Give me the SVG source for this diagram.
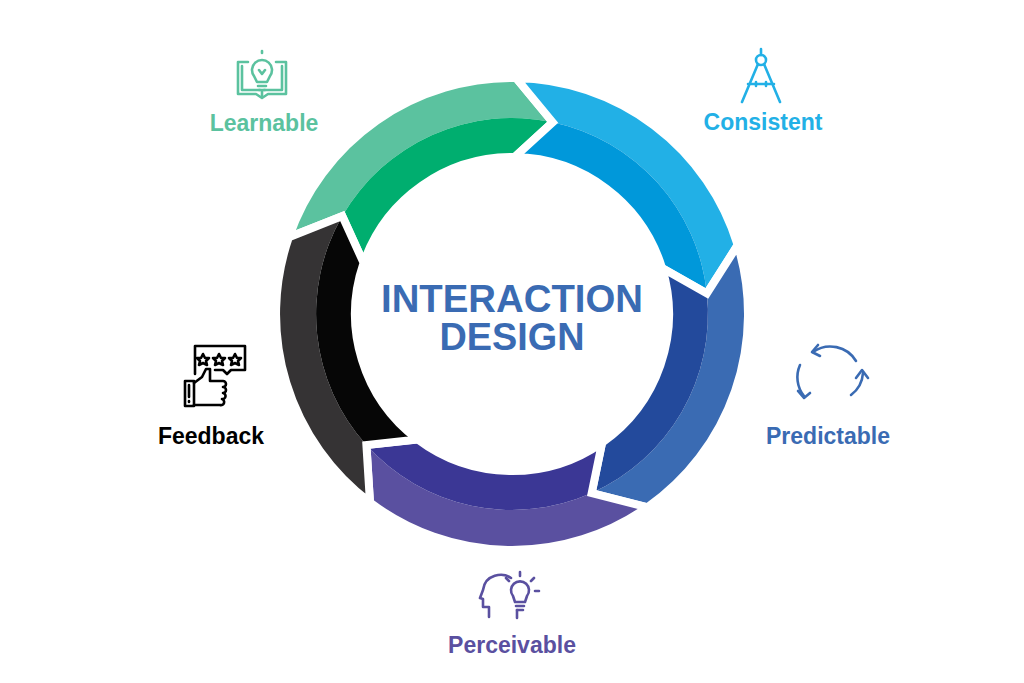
<svg xmlns="http://www.w3.org/2000/svg" width="1024" height="683" viewBox="0 0 1024 683">
<style>
.lbl{font-family:"Liberation Sans",Arial,sans-serif;font-weight:bold;font-size:23px;text-anchor:middle}
.title{font-family:"Liberation Sans",Arial,sans-serif;font-weight:bold;font-size:38px;fill:#3A6BB3;text-anchor:middle}
.gap{fill:none;stroke:#fff;stroke-width:8;stroke-linejoin:miter}
.ic{fill:none;stroke-width:2.6;stroke-linecap:round;stroke-linejoin:round}
</style>
<rect width="1024" height="683" fill="#fff"/>
<g id="ring">
<g id="seg-green">
<path d="M288.9,237.2 A236,236 0 0 1 516.1,78 L552.7,122.3 A196,196 0 0 0 342.3,216 Z" fill="#5BC29F"/>
<path d="M342.3,216 A196,196 0 0 1 552.7,122.3 L514.7,157 A157,157 0 0 0 363.6,262.9 Z" fill="#00AE6F"/>
<path class="gap" d="M288.9,237.2 A236,236 0 0 1 516.1,78 L552.7,122.3 L514.7,157 A157,157 0 0 0 363.6,262.9 L342.3,216 Z"/>
</g>
<g id="seg-blue">
<path d="M516.1,78 A236,236 0 0 1 737.7,245 L706.9,293.5 A196,196 0 0 0 552.7,122.3 Z" fill="#22B0E6"/>
<path d="M552.7,122.3 A196,196 0 0 1 706.9,293.5 L662.1,268.1 A157,157 0 0 0 514.7,157 Z" fill="#0098DA"/>
<path class="gap" d="M516.1,78 A236,236 0 0 1 737.7,245 L706.9,293.5 L662.1,268.1 A157,157 0 0 0 514.7,157 L552.7,122.3 Z"/>
</g>
<g id="seg-darkblue">
<path d="M737.7,245 A236,236 0 0 1 647.4,507.3 L591.7,493 A196,196 0 0 0 706.9,293.5 Z" fill="#3A6BB3"/>
<path d="M706.9,293.5 A196,196 0 0 1 591.7,493 L602.1,442.6 A157,157 0 0 0 662.1,268.1 Z" fill="#234A9C"/>
<path class="gap" d="M737.7,245 A236,236 0 0 1 647.4,507.3 L591.7,493 L602.1,442.6 A157,157 0 0 0 662.1,268.1 L706.9,293.5 Z"/>
</g>
<g id="seg-purple">
<path d="M647.4,507.3 A236,236 0 0 1 370,502.5 L366.4,445.1 A196,196 0 0 0 591.7,493 Z" fill="#5A50A0"/>
<path d="M591.7,493 A196,196 0 0 1 366.4,445.1 L417.5,439.4 A157,157 0 0 0 602.1,442.6 Z" fill="#3B3795"/>
<path class="gap" d="M647.4,507.3 A236,236 0 0 1 370,502.5 L366.4,445.1 L417.5,439.4 A157,157 0 0 0 602.1,442.6 L591.7,493 Z"/>
</g>
<g id="seg-black">
<path d="M370,502.5 A236,236 0 0 1 288.9,237.2 L342.3,216 A196,196 0 0 0 366.4,445.1 Z" fill="#353334"/>
<path d="M366.4,445.1 A196,196 0 0 1 342.3,216 L363.6,262.9 A157,157 0 0 0 417.5,439.4 Z" fill="#060606"/>
<path class="gap" d="M370,502.5 A236,236 0 0 1 288.9,237.2 L342.3,216 L363.6,262.9 A157,157 0 0 0 417.5,439.4 L366.4,445.1 Z"/>
</g>
</g>
<g id="center">
<text class="title" x="512" y="312" textLength="262" lengthAdjust="spacingAndGlyphs">INTERACTION</text>
<text class="title" x="512" y="350" textLength="145" lengthAdjust="spacingAndGlyphs">DESIGN</text>
</g>
<g id="learnable">
<g class="ic" stroke="#5BC29F">
<path d="M238,62 h10 M238,62 v32 h18 l6,4 l6,-4 h18 v-32 h-10"/>
<path d="M242,66 v24 h18 M282,66 v24 h-18"/>
<path d="M254,76 a10,10 0 1 1 16,0 l-3,6 h-10 z M258,86 h8 M259,90 h6 M262,90 v6 M259,70 l3,4 l3,-4"/>
<path d="M262,51 v2"/>
</g>
<text class="lbl" x="264" y="131" fill="#5BC29F">Learnable</text>
</g>
<g id="consistent">
<g class="ic" stroke="#22B0E6">
<circle cx="761" cy="60" r="5"/>
<path d="M761,49 v6 M758,64 l-16,38 M764,64 l16,38 M748,84 h26 M756,82 v4 M766,82 v4"/>
</g>
<text class="lbl" x="763" y="130" fill="#22B0E6">Consistent</text>
</g>
<g id="predictable">
<g class="ic" stroke="#3A6BB3" stroke-width="4">
<path d="M813,352 a30,30 0 0 1 43,9 M851,395 a30,30 0 0 0 12,-22 M800,365 a30,30 0 0 0 4,31"/>
<path d="M818,345 l-6,7 l8,4 M856,378 l6,-8 l6,8 M798,391 l6,7 l6,-5"/>
</g>
<text class="lbl" x="828" y="444" fill="#3A6BB3">Predictable</text>
</g>
<g id="perceivable">
<g class="ic" stroke="#5A50A0" stroke-width="2.2">
<path d="M511,578 c-8,-6 -26,-4 -28,12 l-3,8 l3,1 v8 h6 v10 M517,610 v8"/>
<path d="M513,596 a9,9 0 1 1 14,0 l-2,6 h-10 z M516,606 h8 M517,610 h6"/>
<path d="M520,576 v-4 M531,581 l3,-3 M509,581 l-3,-3 M535,591 h4"/>
</g>
<text class="lbl" x="512" y="653" fill="#5A50A0">Perceivable</text>
</g>
<g id="feedback">
<g class="ic" stroke="#000">
<path d="M195,374 v-28 h50 v24 h-14 l-4,4 l-4,-4 h-8"/>
<path d="M203,354 l2,4 h4 l-3,3 l1,4 l-4,-2 l-4,2 l1,-4 l-3,-3 h4 z M219,354 l2,4 h4 l-3,3 l1,4 l-4,-2 l-4,2 l1,-4 l-3,-3 h4 z M235,354 l2,4 h4 l-3,3 l1,4 l-4,-2 l-4,2 l1,-4 l-3,-3 h4 z"/>
<path d="M185,381 h9 v25 h-9 z M189,385 v12 M189,401 v1"/>
<path d="M194,383 l8,-6 l4,-8 h4 v12 h13 a3,3 0 0 1 0,6 a3,3 0 0 1 0,6 a3,3 0 0 1 -1,6 a3,3 0 0 1 -2,6 h-26"/>
</g>
<text class="lbl" x="211" y="444" fill="#000">Feedback</text>
</g>
</svg>
